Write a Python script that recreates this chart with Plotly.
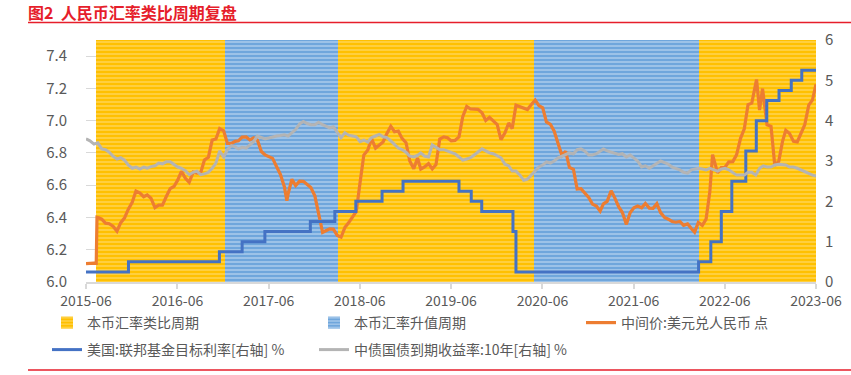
import plotly.graph_objects as go
import pandas as pd

# ---------------- data ----------------
period_names = ["本币汇率类比周期", "本币汇率升值周期"]
analog_starts = ["2015-08-11", "2018-04-03", "2022-03-18"]
analog_ends = ["2017-01-05", "2020-05-29", "2023-06-30"]
appr_starts = ["2017-01-05", "2020-05-29"]
appr_ends = ["2018-04-03", "2022-03-18"]

cny_dates = [
    "2015-06-30", "2015-07-15", "2015-08-01", "2015-08-10", "2015-08-11", "2015-08-13", "2015-08-20",
    "2015-09-01", "2015-09-16", "2015-10-01", "2015-10-16", "2015-11-01", "2015-11-16", "2015-12-01",
    "2015-12-16", "2016-01-01", "2016-01-16", "2016-02-01", "2016-02-16", "2016-03-01", "2016-03-16",
    "2016-04-01", "2016-04-16", "2016-05-01", "2016-05-16", "2016-06-01", "2016-06-16", "2016-07-01",
    "2016-07-16", "2016-08-01", "2016-08-16", "2016-09-01", "2016-09-16", "2016-10-01", "2016-10-16",
    "2016-11-01", "2016-11-16", "2016-12-01", "2016-12-16", "2017-01-01", "2017-01-16", "2017-02-01",
    "2017-02-16", "2017-03-01", "2017-03-16", "2017-04-01", "2017-04-16", "2017-05-01", "2017-05-16",
    "2017-06-01", "2017-06-16", "2017-07-01", "2017-07-16", "2017-08-01", "2017-08-16", "2017-09-01",
    "2017-09-11", "2017-09-16", "2017-10-01", "2017-10-16", "2017-11-01", "2017-11-16", "2017-12-01",
    "2017-12-16", "2018-01-01", "2018-01-16", "2018-02-01", "2018-02-16", "2018-03-01", "2018-03-16",
    "2018-04-01", "2018-04-16", "2018-05-01", "2018-05-16", "2018-06-01", "2018-06-16", "2018-07-01",
    "2018-07-16", "2018-08-01", "2018-08-16", "2018-09-01", "2018-09-16", "2018-10-01", "2018-10-16",
    "2018-11-01", "2018-11-16", "2018-12-01", "2018-12-16", "2019-01-01", "2019-01-16", "2019-02-01",
    "2019-02-16", "2019-03-01", "2019-03-16", "2019-04-01", "2019-04-16", "2019-05-01", "2019-05-16",
    "2019-06-01", "2019-06-16", "2019-07-01", "2019-07-16", "2019-08-01", "2019-08-16", "2019-09-01",
    "2019-09-16", "2019-10-01", "2019-10-16", "2019-11-01", "2019-11-16", "2019-12-01", "2019-12-16",
    "2020-01-01", "2020-01-16", "2020-02-01", "2020-02-16", "2020-03-01", "2020-03-16", "2020-04-01",
    "2020-04-16", "2020-05-01", "2020-05-16", "2020-06-01", "2020-06-16", "2020-07-01", "2020-07-16",
    "2020-08-01", "2020-08-16", "2020-09-01", "2020-09-16", "2020-10-01", "2020-10-16", "2020-11-01",
    "2020-11-16", "2020-12-01", "2020-12-16", "2021-01-01", "2021-01-16", "2021-02-01", "2021-02-16",
    "2021-03-01", "2021-03-16", "2021-04-01", "2021-04-16", "2021-05-01", "2021-05-16", "2021-06-01",
    "2021-06-16", "2021-07-01", "2021-07-16", "2021-08-01", "2021-08-16", "2021-09-01", "2021-09-16",
    "2021-10-01", "2021-10-16", "2021-11-01", "2021-11-16", "2021-12-01", "2021-12-16", "2022-01-01",
    "2022-01-16", "2022-02-01", "2022-02-16", "2022-03-01", "2022-03-16", "2022-04-01", "2022-04-16",
    "2022-04-26", "2022-05-01", "2022-05-12", "2022-06-01", "2022-06-16", "2022-07-01", "2022-07-16",
    "2022-08-01", "2022-08-16", "2022-09-01", "2022-09-16", "2022-10-01", "2022-10-16", "2022-11-04",
    "2022-11-16", "2022-11-28", "2022-12-16", "2023-01-01", "2023-01-16", "2023-02-01", "2023-02-16",
    "2023-03-01", "2023-03-16", "2023-04-01", "2023-04-16", "2023-05-01", "2023-05-16", "2023-06-01",
    "2023-06-16", "2023-06-30",
]
cny_values = [
    6.1136, 6.1167, 6.1172, 6.1162, 6.2298, 6.4010, 6.3975,
    6.3893, 6.3649, 6.3613, 6.3459, 6.3154, 6.3680, 6.3962,
    6.4495, 6.4936, 6.5637, 6.5516, 6.5289, 6.5403, 6.5195,
    6.4612, 6.4762, 6.4762, 6.5282, 6.5790, 6.5918, 6.6312,
    6.6857, 6.6432, 6.6180, 6.6808, 6.6754, 6.6778, 6.7558,
    6.7735, 6.8796, 6.8865, 6.9508, 6.9370, 6.8592, 6.8588,
    6.8718, 6.8750, 6.8985, 6.8993, 6.8808, 6.8931, 6.8801,
    6.8090, 6.7871, 6.7744, 6.7662, 6.7148, 6.6674, 6.5909,
    6.5032, 6.5460, 6.6369, 6.5972, 6.6251, 6.6240, 6.6034,
    6.5854, 6.5342, 6.4347, 6.3074, 6.3194, 6.3294, 6.3276,
    6.2881, 6.2776, 6.3371, 6.3670, 6.4078, 6.4369, 6.6166,
    6.7866, 6.8184, 6.8894, 6.8300, 6.8487, 6.8680, 6.9190,
    6.9646, 6.9315, 6.9357, 6.8902, 6.8632, 6.7506, 6.7025,
    6.7685, 6.6994, 6.7132, 6.7335, 6.7010, 6.7286, 6.8859,
    6.8992, 6.8946, 6.8747, 6.8777, 6.8996, 7.0252, 7.0884,
    7.0726, 7.0729, 7.0699, 7.0492, 7.0011, 7.0207, 6.9997,
    6.9762, 6.8823, 6.9249, 6.9858, 6.9510, 7.0957, 7.0851,
    7.0771, 7.0690, 7.0979, 7.1277, 7.0935, 7.0795, 6.9923,
    6.9776, 6.9344, 6.8498, 6.7846, 6.8101, 6.7098, 6.6979,
    6.5762, 6.5782, 6.5507, 6.5249, 6.4827, 6.4709, 6.4391,
    6.4845, 6.5000, 6.5649, 6.5202, 6.4672, 6.4306, 6.3572,
    6.4298, 6.4601, 6.4705, 6.4602, 6.4863, 6.4577, 6.4566,
    6.4854, 6.4303, 6.3996, 6.3890, 6.3752, 6.3706, 6.3757,
    6.3511, 6.3600, 6.3317, 6.3090, 6.3691, 6.3509, 6.3898,
    6.4909, 6.5588, 6.7899, 6.6766, 6.7099, 6.7114, 6.7447,
    6.7462, 6.7883, 6.8906, 6.9498, 7.0998, 7.1086, 7.2555,
    7.0655, 7.1989, 6.9746, 6.9646, 6.7222, 6.7492, 6.8714,
    6.9400, 6.9208, 6.8717, 6.8680, 6.9234, 6.9748, 7.0965,
    7.1289, 7.2258,
]

fed_dates = [
    "2015-06-30", "2015-12-17", "2016-12-15", "2017-03-16", "2017-06-15", "2017-12-14",
    "2018-03-22", "2018-06-14", "2018-09-27", "2018-12-20", "2019-08-01", "2019-09-19",
    "2019-10-31", "2020-03-04", "2020-03-16", "2022-03-17", "2022-05-05", "2022-06-16",
    "2022-07-28", "2022-09-22", "2022-11-03", "2022-12-15", "2023-02-02", "2023-03-23",
    "2023-05-04", "2023-06-30",
]
fed_values = [
    0.25, 0.50, 0.75, 1.00, 1.25, 1.50,
    1.75, 2.00, 2.25, 2.50, 2.25, 2.00,
    1.75, 1.25, 0.25, 0.50, 1.00, 1.75,
    2.50, 3.25, 4.00, 4.50, 4.75, 5.00,
    5.25, 5.25,
]

cgb_dates = [
    "2015-06-30", "2015-07-16", "2015-08-01", "2015-08-16", "2015-09-01", "2015-09-16", "2015-10-01",
    "2015-10-16", "2015-11-01", "2015-11-16", "2015-12-01", "2015-12-16", "2016-01-01", "2016-01-16",
    "2016-02-01", "2016-02-16", "2016-03-01", "2016-03-16", "2016-04-01", "2016-04-16", "2016-05-01",
    "2016-05-16", "2016-06-01", "2016-06-16", "2016-07-01", "2016-07-16", "2016-08-01", "2016-08-16",
    "2016-09-01", "2016-09-16", "2016-10-01", "2016-10-16", "2016-11-01", "2016-11-16", "2016-12-01",
    "2016-12-16", "2017-01-01", "2017-01-16", "2017-02-01", "2017-02-16", "2017-03-01", "2017-03-16",
    "2017-04-01", "2017-04-16", "2017-05-01", "2017-05-16", "2017-06-01", "2017-06-16", "2017-07-01",
    "2017-07-16", "2017-08-01", "2017-08-16", "2017-09-01", "2017-09-16", "2017-10-01", "2017-10-16",
    "2017-11-01", "2017-11-16", "2017-12-01", "2017-12-16", "2018-01-01", "2018-01-16", "2018-02-01",
    "2018-02-16", "2018-03-01", "2018-03-16", "2018-04-01", "2018-04-16", "2018-05-01", "2018-05-16",
    "2018-06-01", "2018-06-16", "2018-07-01", "2018-07-16", "2018-08-01", "2018-08-16", "2018-09-01",
    "2018-09-16", "2018-10-01", "2018-10-16", "2018-11-01", "2018-11-16", "2018-12-01", "2018-12-16",
    "2019-01-01", "2019-01-16", "2019-02-01", "2019-02-16", "2019-03-01", "2019-03-16", "2019-04-01",
    "2019-04-16", "2019-05-01", "2019-05-16", "2019-06-01", "2019-06-16", "2019-07-01", "2019-07-16",
    "2019-08-01", "2019-08-16", "2019-09-01", "2019-09-16", "2019-10-01", "2019-10-16", "2019-11-01",
    "2019-11-16", "2019-12-01", "2019-12-16", "2020-01-01", "2020-01-16", "2020-02-01", "2020-02-16",
    "2020-03-01", "2020-03-16", "2020-04-01", "2020-04-16", "2020-05-01", "2020-05-16", "2020-06-01",
    "2020-06-16", "2020-07-01", "2020-07-16", "2020-08-01", "2020-08-16", "2020-09-01", "2020-09-16",
    "2020-10-01", "2020-10-16", "2020-11-01", "2020-11-16", "2020-12-01", "2020-12-16", "2021-01-01",
    "2021-01-16", "2021-02-01", "2021-02-16", "2021-03-01", "2021-03-16", "2021-04-01", "2021-04-16",
    "2021-05-01", "2021-05-16", "2021-06-01", "2021-06-16", "2021-07-01", "2021-07-16", "2021-08-01",
    "2021-08-16", "2021-09-01", "2021-09-16", "2021-10-01", "2021-10-16", "2021-11-01", "2021-11-16",
    "2021-12-01", "2021-12-16", "2022-01-01", "2022-01-16", "2022-02-01", "2022-02-16", "2022-03-01",
    "2022-03-16", "2022-04-01", "2022-04-16", "2022-05-01", "2022-05-16", "2022-06-01", "2022-06-16",
    "2022-07-01", "2022-07-16", "2022-08-01", "2022-08-16", "2022-09-01", "2022-09-16", "2022-10-01",
    "2022-10-16", "2022-11-01", "2022-11-16", "2022-12-01", "2022-12-16", "2023-01-01", "2023-01-16",
    "2023-02-01", "2023-02-16", "2023-03-01", "2023-03-16", "2023-04-01", "2023-04-16", "2023-05-01",
    "2023-05-16", "2023-06-01", "2023-06-16", "2023-06-30",
]
cgb_values = [
    3.55, 3.50, 3.42, 3.45, 3.30, 3.28, 3.22,
    3.12, 3.05, 3.08, 3.02, 2.90, 2.82, 2.85,
    2.80, 2.85, 2.82, 2.86, 2.88, 2.95, 2.93,
    2.98, 2.98, 2.92, 2.85, 2.82, 2.76, 2.66,
    2.72, 2.75, 2.66, 2.68, 2.72, 2.82, 2.95,
    3.25, 3.10, 3.28, 3.38, 3.35, 3.30, 3.34,
    3.32, 3.40, 3.48, 3.62, 3.58, 3.55, 3.57,
    3.60, 3.62, 3.63, 3.65, 3.62, 3.70, 3.78,
    3.92, 3.98, 3.93, 3.90, 3.90, 3.96, 3.90,
    3.86, 3.82, 3.85, 3.72, 3.58, 3.70, 3.64,
    3.62, 3.60, 3.48, 3.52, 3.47, 3.58, 3.62,
    3.66, 3.60, 3.58, 3.50, 3.40, 3.32, 3.28,
    3.22, 3.12, 3.10, 3.14, 3.20, 3.12, 3.10,
    3.40, 3.35, 3.28, 3.28, 3.24, 3.22, 3.18,
    3.10, 3.02, 3.05, 3.08, 3.15, 3.22, 3.30,
    3.25, 3.20, 3.18, 3.13, 3.08, 2.92, 2.88,
    2.75, 2.75, 2.65, 2.52, 2.55, 2.65, 2.75,
    2.85, 2.90, 2.98, 2.95, 3.00, 3.08, 3.12,
    3.15, 3.20, 3.18, 3.28, 3.30, 3.25, 3.15,
    3.15, 3.18, 3.25, 3.30, 3.25, 3.22, 3.18,
    3.16, 3.18, 3.10, 3.15, 3.08, 3.00, 2.85,
    2.88, 2.82, 2.88, 2.92, 3.00, 2.96, 2.92,
    2.85, 2.82, 2.78, 2.72, 2.70, 2.78, 2.80,
    2.82, 2.80, 2.78, 2.82, 2.78, 2.75, 2.80,
    2.82, 2.78, 2.72, 2.65, 2.65, 2.65, 2.72,
    2.72, 2.65, 2.82, 2.88, 2.85, 2.85, 2.90,
    2.92, 2.90, 2.90, 2.85, 2.85, 2.82, 2.78,
    2.72, 2.68, 2.65, 2.63,
]

line_names = ["中间价:美元兑人民币 点", "美国:联邦基金目标利率[右轴] %", "中债国债到期收益率:10年[右轴] %"]
x_tick_vals = ["2015-06-30", "2016-06-30", "2017-06-30", "2018-06-30", "2019-06-30",
               "2020-06-30", "2021-06-30", "2022-06-30", "2023-06-30"]
x_tick_text = ["2015-06", "2016-06", "2017-06", "2018-06", "2019-06",
               "2020-06", "2021-06", "2022-06", "2023-06"]
left_ticks = [6.0, 6.2, 6.4, 6.6, 6.8, 7.0, 7.2, 7.4]
right_ticks = [0, 1, 2, 3, 4, 5, 6]
title_text = "图2  人民币汇率类比周期复盘"

# ---------------- figure ----------------
FONT = "Noto Sans CJK SC, Noto Sans, sans-serif"
TXT = "#595959"
LEFT_MIN, LEFT_MAX = 6.0, 7.5

PL, PR, PT, PB = 86, 816, 40, 282
W, H = 851, 375


def px_x(p):
    return (p - PL) / (PR - PL)


def px_y(p):
    return (PB - p) / (PB - PT)


def spans(starts, ends):
    s = pd.to_datetime(starts)
    e = pd.to_datetime(ends)
    widths = [(b - a).total_seconds() * 1000 for a, b in zip(s, e)]
    return list(s), widths


fig = go.Figure()

for name, (st, en), bg, fg, lg in [
    (period_names[0], (analog_starts, analog_ends), "#FFC000", "#FFE38A", "legend"),
    (period_names[1], (appr_starts, appr_ends), "#6FA6DC", "#D3E5F6", "legend2"),
]:
    xs, ws = spans(st, en)
    fig.add_trace(go.Bar(
        x=xs, y=[LEFT_MAX - LEFT_MIN] * len(xs), base=LEFT_MIN, width=ws, offset=0,
        name=name, yaxis="y", legend=lg,
        marker=dict(color=bg, line=dict(width=0),
                    pattern=dict(shape="-", fillmode="overlay", bgcolor=bg, fgcolor=fg,
                                 size=4, solidity=0.45)),
        hoverinfo="skip",
    ))

fig.add_trace(go.Scatter(x=cny_dates, y=cny_values, name=line_names[0], mode="lines",
                         line=dict(color="#ED7D31", width=3.2), yaxis="y", legend="legend3"))
fig.add_trace(go.Scatter(x=fed_dates, y=fed_values, name=line_names[1], mode="lines",
                         line=dict(color="#4472C4", width=3, shape="hv"), yaxis="y2",
                         legend="legend4"))
fig.add_trace(go.Scatter(x=cgb_dates, y=cgb_values, name=line_names[2], mode="lines",
                         line=dict(color="#B4B4B4", width=3), yaxis="y2", legend="legend5"))

TEXT_OFFSET = 41
ROW1_TOP, ROW2_TOP = 307, 334


def legend_at(text_x, top):
    return dict(orientation="h", x=px_x(text_x - TEXT_OFFSET), y=px_y(top),
                xanchor="left", yanchor="top", font=dict(size=14, color=TXT),
                bgcolor="rgba(0,0,0,0)", itemclick=False)


fig.update_layout(
    width=W, height=H,
    margin=dict(l=PL, r=W - PR, t=PT, b=H - PB, autoexpand=False),
    paper_bgcolor="white", plot_bgcolor="white",
    barmode="overlay", bargap=0,
    font=dict(family=FONT, color=TXT, size=14),
    xaxis=dict(type="date", range=["2015-06-30", "2023-06-30"],
               tickvals=x_tick_vals, ticktext=x_tick_text,
               showgrid=False, showline=True, linecolor="#D9D9D9", linewidth=2,
               ticks="outside", ticklen=5, tickcolor="#D9D9D9", tickwidth=1.5,
               tickfont=dict(size=14, color=TXT), zeroline=False),
    yaxis=dict(range=[LEFT_MIN, LEFT_MAX], tickvals=left_ticks, tickformat=".1f",
               showgrid=True, gridcolor="#D9D9D9", gridwidth=1, zeroline=False,
               showline=False, ticks="", ticklabelstandoff=18,
               tickfont=dict(size=15, color=TXT)),
    yaxis2=dict(range=[0, 6], tickvals=right_ticks, overlaying="y", side="right",
                showgrid=False, zeroline=False, showline=False, ticks="",
                ticklabelstandoff=8, tickfont=dict(size=15, color=TXT)),
    legend=legend_at(88, ROW1_TOP),
    legend2=legend_at(355, ROW1_TOP),
    legend3=legend_at(622, ROW1_TOP),
    legend4=legend_at(88, ROW2_TOP),
    legend5=legend_at(355, ROW2_TOP),
    showlegend=True,
)

fig.add_annotation(text="<b>" + title_text + "</b>", xref="paper", yref="paper",
                   x=px_x(26), y=px_y(12), xanchor="left", yanchor="middle",
                   showarrow=False, font=dict(size=16, color="#E61E2B", family=FONT))
fig.add_shape(type="line", xref="paper", yref="paper", x0=px_x(28), x1=px_x(851),
              y0=px_y(22.5), y1=px_y(22.5), line=dict(color="#E61E2B", width=1.5))
fig.add_shape(type="line", xref="paper", yref="paper", x0=px_x(28), x1=px_x(851),
              y0=px_y(370), y1=px_y(370), line=dict(color="#E61E2B", width=1.5))

fig.write_html("out.html", config={"displayModeBar": False},
               post_script="document.body.style.margin='0';")
